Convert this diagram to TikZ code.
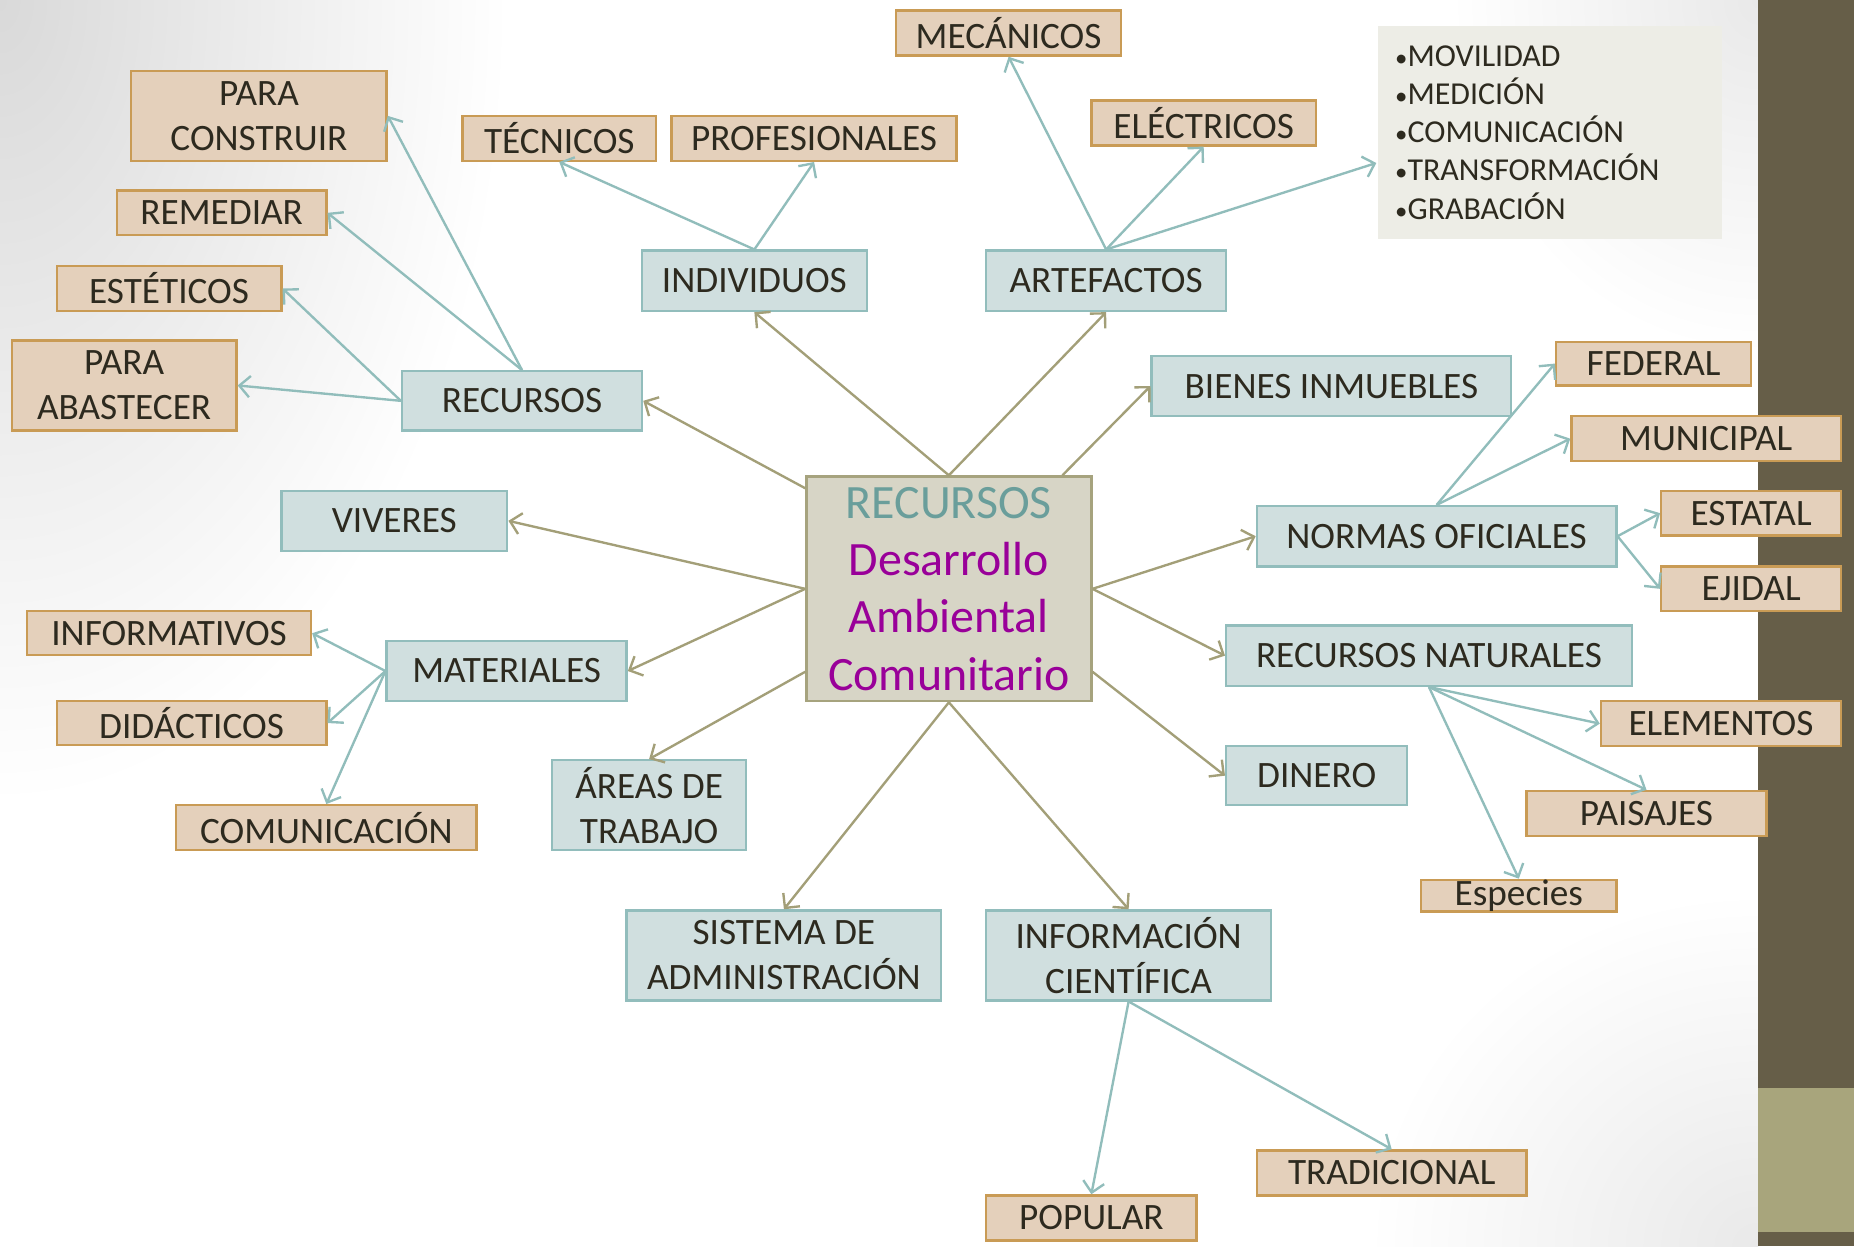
\documentclass[tikz,border=0pt]{standalone}
\usepackage{fontspec}
\setmainfont{Carlito}
\usetikzlibrary{arrows.meta}

\definecolor{tanfill}{HTML}{E4D0BB}
\definecolor{tanline}{HTML}{C99B55}
\definecolor{bluefill}{HTML}{D0DFDF}
\definecolor{blueline}{HTML}{92BDBC}
\definecolor{centerfill}{HTML}{D7D5C6}
\definecolor{centerline}{HTML}{A6A37E}
\definecolor{oliveline}{HTML}{A39F78}
\definecolor{tealline}{HTML}{91BDBB}
\definecolor{listfill}{HTML}{EDEDE6}
\definecolor{textdark}{HTML}{2D2A1F}
\definecolor{titleteal}{HTML}{6A9E9B}
\definecolor{titlepurple}{HTML}{990099}
\definecolor{band}{HTML}{665E48}
\definecolor{bandlight}{HTML}{A8A57C}
\definecolor{bgcorner}{HTML}{D9D9D9}
\definecolor{bgsoft}{HTML}{E9E9E9}

\pgfdeclareradialshading{cornerfade}{\pgfpoint{0bp}{0bp}}{color(0bp)=(bgcorner); color(25bp)=(white); color(50bp)=(white)}
\pgfdeclareradialshading{softfade}{\pgfpoint{0bp}{0bp}}{color(0bp)=(bgsoft); color(25bp)=(white); color(50bp)=(white)}

\newcommand{\lstdot}{{\fontsize{21}{21}\selectfont•}}

\tikzset{
  boxsize/.style 2 args={minimum width=#1pt, minimum height=#2pt},
  tanbox/.style={draw=tanline, fill=tanfill, line width=2pt, inner sep=0pt,
    text=textdark, align=center, font=\fontsize{31.5}{38}\selectfont},
  bluebox/.style={draw=blueline, fill=bluefill, line width=2pt, inner sep=0pt,
    text=textdark, align=center, font=\fontsize{31.5}{38}\selectfont},
  centerbox/.style={draw=centerline, fill=centerfill, line width=2pt, inner sep=0pt,
    text=titlepurple, align=center, font=\fontsize{40.5}{48.5}\selectfont},
  listbox/.style={fill=listfill, inner xsep=15pt, inner ysep=0pt, text width=261pt,
    minimum height=180pt, align=left, text=textdark, font=\fontsize{27}{32.3}\selectfont}
}

\begin{document}
\begin{tikzpicture}[x=1pt,y=-1pt,>={Straight Barb[length=9pt,width=18pt]},line width=2pt]
  \useasboundingbox (0,0) rectangle (1568,1054);
  % slide background
  \fill[white] (0,0) rectangle (1487,1054);
  \begin{scope}
    \clip (0,0) rectangle (1487,1054);
    \shade[shading=cornerfade] (0,0) ellipse (430pt and 680pt);
    \shade[shading=softfade] (1487,0) ellipse (260pt and 300pt);
    \shade[shading=softfade] (1487,1054) ellipse (330pt and 300pt);
  \end{scope}
  \fill[band] (1487,0) rectangle (1568,1054);
  \fill[bandlight] (1487,920) rectangle (1568,1042);

  % centre
  \node[centerbox, boxsize={241}{190}] (c) at (802.5,498)
    {\textcolor{titleteal}{RECURSOS}\\Desarrollo\\Ambiental\\Comunitario};

  % first level
  \node[bluebox, boxsize={190}{51}] (ind) at (638,237.5) {INDIVIDUOS};
  \node[bluebox, boxsize={203}{51}] (art) at (935.5,237.5) {ARTEFACTOS};
  \node[bluebox, boxsize={203}{50}] (rec) at (441.5,339) {RECURSOS};
  \node[bluebox, boxsize={304}{51}] (bie) at (1126,326.5) {BIENES INMUEBLES};
  \node[bluebox, boxsize={191}{51}] (viv) at (333.5,440.5) {VIVERES};
  \node[bluebox, boxsize={304}{51}] (nor) at (1215,453.5) {NORMAS OFICIALES};
  \node[bluebox, boxsize={203}{51}] (mat) at (428.5,567.5) {MATERIALES};
  \node[bluebox, boxsize={343}{51}] (rn) at (1208.5,554.5) {RECURSOS NATURALES};
  \node[bluebox, boxsize={164}{76}] (are) at (549,681) {ÁREAS DE\\TRABAJO};
  \node[bluebox, boxsize={153}{50}] (din) at (1113.5,656) {DINERO};
  \node[bluebox, boxsize={266}{76}] (sis) at (663,808) {SISTEMA DE\\ADMINISTRACIÓN};
  \node[bluebox, boxsize={241}{76}] (info) at (954.5,808) {INFORMACIÓN\\CIENTÍFICA};

  % second level
  \node[tanbox, boxsize={216}{76}] (pc) at (219,98) {PARA\\CONSTRUIR};
  \node[tanbox, boxsize={177}{38}] (rem) at (187.5,180) {REMEDIAR};
  \node[tanbox, boxsize={190}{38}] (est) at (143,244) {ESTÉTICOS};
  \node[tanbox, boxsize={190}{76}] (pa) at (105,326) {PARA\\ABASTECER};
  \node[tanbox, boxsize={164}{38}] (tec) at (473,117) {TÉCNICOS};
  \node[tanbox, boxsize={241}{38}] (prof) at (688.5,117) {PROFESIONALES};
  \node[tanbox, boxsize={190}{38}] (mec) at (853,28) {MECÁNICOS};
  \node[tanbox, boxsize={190}{38}] (ele) at (1018,104) {ELÉCTRICOS};
  \node[listbox] (lst) at (1310.5,112)
    {\lstdot MOVILIDAD\\\lstdot MEDICIÓN\\\lstdot COMUNICACIÓN\\\lstdot TRANSFORMACIÓN\\\lstdot GRABACIÓN};
  \node[tanbox, boxsize={165}{37}] (fed) at (1398.5,307.5) {FEDERAL};
  \node[tanbox, boxsize={228}{38}] (mun) at (1443,371) {MUNICIPAL};
  \node[tanbox, boxsize={152}{38}] (esta) at (1481,434) {ESTATAL};
  \node[tanbox, boxsize={152}{38}] (eji) at (1481,498) {EJIDAL};
  \node[tanbox, boxsize={240}{37}] (infv) at (143,535.5) {INFORMATIVOS};
  \node[tanbox, boxsize={228}{37}] (did) at (162,611.5) {DIDÁCTICOS};
  \node[tanbox, boxsize={254}{38}] (comu) at (276,700) {COMUNICACIÓN};
  \node[tanbox, boxsize={203}{38}] (elem) at (1455.5,612) {ELEMENTOS};
  \node[tanbox, boxsize={203}{38}] (pai) at (1392.5,688) {PAISAJES};
  \node[tanbox, boxsize={165}{25}] (esp) at (1284.5,757.5) {Especies};
  \node[tanbox, boxsize={228}{38}] (tra) at (1177,992) {TRADICIONAL};
  \node[tanbox, boxsize={178}{38}] (pop) at (923,1030) {POPULAR};

  \path[->, oliveline]
    (c.north) edge (ind.south)
    (c.north) edge (art.south)
    (c.45) edge (bie.west)
    (c.145) edge (rec.east)
    (c.west) edge (viv.east)
    (c.west) edge (mat.east)
    (c.210) edge (are.north)
    (c.south) edge (sis.north)
    (c.south) edge (info.north)
    (c.east) edge (nor.west)
    (c.east) edge (rn.west)
    (c.-30) edge (din.west);

  \path[->, tealline]
    (rec.north) edge (pc.east)
    (rec.north) edge (rem.east)
    (rec.west) edge (est.east)
    (rec.west) edge (pa.east)
    (ind.north) edge (tec.south)
    (ind.north) edge (prof.south)
    (art.north) edge (mec.south)
    (art.north) edge (ele.south)
    (art.north) edge (lst.190)
    (nor.north) edge (fed.west)
    (nor.north) edge (mun.west)
    (nor.east) edge (esta.west)
    (nor.east) edge (eji.west)
    (mat.west) edge (infv.east)
    (mat.west) edge (did.east)
    (mat.west) edge (comu.north)
    (rn.south) edge (elem.west)
    (rn.south) edge (pai.north)
    (rn.south) edge (esp.north)
    (info.south) edge (pop.north)
    (info.south) edge (tra.north);
\end{tikzpicture}
\end{document}
